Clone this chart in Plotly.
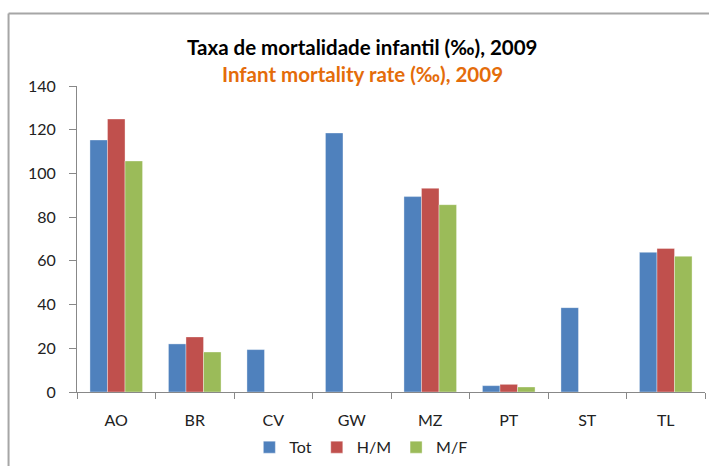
import plotly.graph_objects as go

categories = ["AO", "BR", "CV", "GW", "MZ", "PT", "ST", "TL"]
tot = [115.3, 22.0, 19.4, 118.5, 89.4, 2.9, 38.6, 63.9]
hm = [124.9, 25.2, None, None, 93.2, 3.5, None, 65.7]
mf = [105.7, 18.3, None, None, 85.7, 2.3, None, 62.1]
series_names = ["Tot", "H/M", "M/F"]
colors = ["#4F81BD", "#C0504D", "#9BBB59"]

FONT = "Lato, 'Open Sans', sans-serif"

fig = go.Figure()
for name, vals, col in zip(series_names, [tot, hm, mf], colors):
    fig.add_trace(go.Bar(x=categories, y=vals, name=name,
                         marker=dict(color=col, line=dict(color="rgba(255,255,255,0.6)", width=0.6))))

fig.update_layout(
    width=709, height=466,
    margin=dict(l=77, r=4, t=86, b=74, autoexpand=False),
    paper_bgcolor="white", plot_bgcolor="white",
    barmode="group", bargap=0.33, bargroupgap=0,
    font=dict(family=FONT, size=16, color="#222"),
    showlegend=True,
    legend=dict(orientation="h", x=0.452, xanchor="center", y=-0.125, yanchor="top",
                font=dict(size=16, color="#222"), itemwidth=30),
    xaxis=dict(showline=True, linecolor="#888", linewidth=1, ticks="outside",
               tickson="boundaries", ticklen=6, tickcolor="#888",
               tickfont=dict(size=16, color="#222"), ticklabelstandoff=14),
    yaxis=dict(range=[0, 140], dtick=20, showgrid=False, showline=True, linecolor="#888",
               linewidth=1, ticks="outside", ticklen=7, tickcolor="#888",
               tickfont=dict(size=16, color="#222"), ticklabelstandoff=10, zeroline=False),
    annotations=[
        dict(text="<b>Taxa de mortalidade infantil (‰), 2009</b>", xref="paper", yref="paper",
             x=0.4546, y=1.173, showarrow=False, font=dict(size=20.5, color="black", family=FONT)),
        dict(text="<b>Infant mortality rate (‰), 2009</b>", xref="paper", yref="paper",
             x=0.4546, y=1.085, showarrow=False, font=dict(size=20.5, color="#E46C0A", family=FONT)),
    ],
    shapes=[
        dict(type="line", xref="paper", yref="paper", x0=-0.109, x1=-0.109, y0=1.237, y1=-0.3,
             line=dict(color="#A6A6A6", width=2)),
        dict(type="line", xref="paper", yref="paper", x0=-0.109, x1=1.1, y0=1.237, y1=1.237,
             line=dict(color="#A6A6A6", width=2)),
    ],
)

fig.write_html("out.html", config={"displayModeBar": False},
               post_script="document.body.style.margin='0';document.body.style.overflow='hidden';")
